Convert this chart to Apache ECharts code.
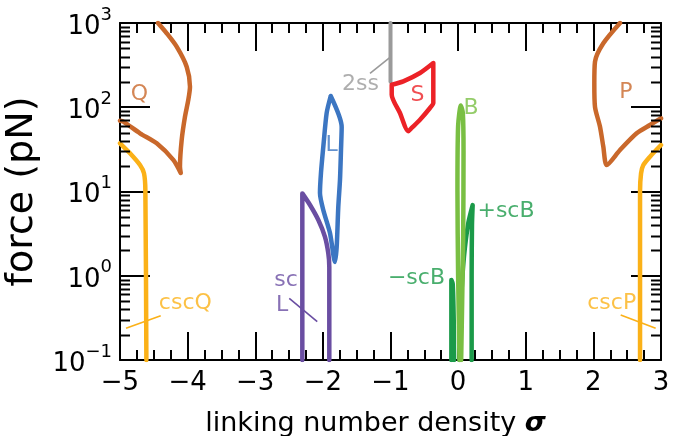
<!DOCTYPE html>
<html><head><meta charset="utf-8">
<script src="https://cdn.jsdelivr.net/npm/echarts@6/dist/echarts.min.js"></script>
<style>html,body{margin:0;padding:0;background:#fff}#c{width:683px;height:436px}</style>
</head><body><div id="c"></div>
<script>
// ---- data (sigma, force pN) ----
const curveQ = [[-4.438,1000],[-4.309,755],[-4.162,524],[-4.014,303],[-3.965,175],[-3.990,122],[-4.039,77.3],[-4.088,40.8],[-4.113,19.7],[-4.102,16.6],[-4.212,23.7],[-4.457,37.3],[-4.704,49.1],[-4.951,67.5],[-5.0,69.2]];
const curveP = [[2.394,1000],[2.147,574],[2.024,348],[2.014,192],[2.024,101],[2.098,58.7],[2.147,34.0],[2.197,20.6],[2.394,31.1],[2.640,49.1],[2.837,61.5],[3.0,74.0]];
const curveCscQ = [[-5.0,37.3],[-4.852,28.4],[-4.704,20.6],[-4.645,16.4],[-4.625,10.4],[-4.61,0.1]];
const curveCscP = [[3.0,35.6],[2.837,25.9],[2.739,20.6],[2.705,16.4],[2.69,10],[2.69,0.1]];
const curve2ss = [[-1.0,1000],[-1.0,201]];
const curveS = [[-0.982,185],[-0.811,203],[-0.564,255],[-0.367,335],[-0.367,112],[-0.416,98],[-0.564,71.1],[-0.687,56.8],[-0.737,51.9],[-0.86,85.5],[-0.982,141],[-0.982,185]];
const curveL = [[-1.884,136],[-1.722,58.3],[-1.732,31.1],[-1.747,13.7],[-1.772,6.55],[-1.796,2.19],[-1.821,1.46],[-1.895,3.21],[-1.994,6.03],[-2.043,9.59],[-2.028,16.6],[-1.994,33.7],[-1.944,85.5],[-1.884,136]];
const curveScL = [[-2.304,0.1],[-2.304,9.5],[-2.190,6.92],[-2.067,4.59],[-1.969,2.90],[-1.920,1.85],[-1.905,1.28],[-1.905,0.1]];
const curveB = [[0.02,0.1],[0.0,1],[-0.01,10],[0.0,60],[0.04,105],[0.07,85],[0.08,30],[0.075,3],[0.06,0.5],[0.045,0.1]];
const curvePlusScB = [[0.02,0.1],[0.03,0.25],[0.052,0.68],[0.087,1.7],[0.15,4.2],[0.215,6.9],[0.205,4],[0.2,1],[0.2,0.1]];
const curveMinusScB = [[-0.10,0.1],[-0.10,0.89],[-0.08,0.8],[-0.065,0.3],[-0.06,0.1]];

const xTickValues = [-5,-4,-3,-2,-1,0,1,2,3];
const yDecades = [0.1,1,10,100,1000];
const yMinorMultipliers = [2,3,4,5,6,7,8,9];

// annotation text and anchor (sigma, force)
const labelTexts  = ['Q','P','S','L','B','+scB','\u2212scB','2ss','cscQ','cscP','sc','L'];
const labelSigma  = [-4.712, 2.48, -0.60, -1.869, 0.19, 0.708, -0.194, -1.444, -4.034, 2.271, -2.545, -2.604];
const labelForce  = [141.6, 150, 138.7, 35.2, 97, 5.8, 0.927, 189.7, 0.466, 0.471, 0.891, 0.45];
const leaderLines = {
  '2ss': [[-1.303,253],[-1.007,392]],
  cscQ: [[-4.911,0.238],[-4.398,0.336]],
  cscP: [[2.404,0.342],[2.921,0.238]],
  scL:  [[-2.497,0.54],[-2.083,0.285]]
};

const C = {
  Q:'#c9682b', csc:'#fbb118', S:'#ec2227', L:'#3c76c2', scL:'#6a4ea2',
  gray:'#9a9a9a', B:'#79bf43', scB:'#1b9a49'
};
const labelColors = [C.Q,C.Q,C.S,C.L,C.B,C.scB,C.scB,C.gray,C.csc,C.csc,C.scL,C.scL];
const labelAlign  = ['center','center','center','center','center','center','right','center','center','center','center','center'];

const FONT = 'DejaVu Sans';
const chart = echarts.init(document.getElementById('c'), null, {renderer:'canvas'});

function minus(v){ return v < 0 ? '\u2212' + Math.abs(v) : String(v); }

const minorYValues = [];
yDecades.slice(0,-1).forEach(d => yMinorMultipliers.forEach(m => minorYValues.push(d*m)));

function lineSeries(data, color, w){
  return {type:'line', data, showSymbol:false, symbol:'none', smooth:0.25,
    lineStyle:{color, width:w||4.5, cap:'round', join:'round'}, silent:true, z:3};
}

const series = [
  lineSeries(curveCscQ, C.csc), lineSeries(curveCscP, C.csc),
  lineSeries(curveQ, C.Q), lineSeries(curveP, C.Q),
  lineSeries(curve2ss, C.gray, 4), lineSeries(curveS, C.S),
  lineSeries(curveScL, C.scL), lineSeries(curveL, C.L),
  lineSeries(curveMinusScB, C.scB), lineSeries(curvePlusScB, C.scB),
  lineSeries(curveB, C.B),
];
[['2ss',C.gray],['cscQ',C.csc],['cscP',C.csc],['scL',C.scL]].forEach(([k,col])=>{
  series.push({type:'line', data:leaderLines[k], showSymbol:false, symbol:'none',
    lineStyle:{color:col, width:1.6}, silent:true, z:2});
});
series.push({
  type:'scatter', symbolSize:0, silent:true, z:5,
  data: labelTexts.map((t,i)=>({value:[labelSigma[i], labelForce[i]],
    label:{show:true, formatter:t, color:labelColors[i], position:'inside', align:labelAlign[i],
      verticalAlign:'middle', fontSize:22, fontFamily:FONT}}))
});
// minor log ticks (left & right, inside)
series.push({
  type:'custom', silent:true, z:10, clip:false,
  data: minorYValues.map(v=>[-5, v]),
  renderItem(params, api){
    const cs = params.coordSys;
    const p = api.coord([-5, api.value(1)]);
    const y = Math.round(p[1]) + 0.5;
    return {type:'group', children:[
      {type:'line', shape:{x1:cs.x, y1:y, x2:cs.x+10, y2:y}, style:{stroke:'#000', lineWidth:2}},
      {type:'line', shape:{x1:cs.x+cs.width-10, y1:y, x2:cs.x+cs.width, y2:y}, style:{stroke:'#000', lineWidth:2}}
    ]};
  }
});

const axisLineStyle = {show:true, onZero:false, lineStyle:{color:'#000', width:2}};
const tickStyle = {lineStyle:{color:'#000', width:2}};

chart.setOption({
  animation:false,
  backgroundColor:'#fff',
  grid:{left:120, right:22, top:23, bottom:76, containLabel:false, outerBoundsMode:'none'},
  xAxis:[{
    type:'value', min:-5, max:3, interval:1, position:'bottom',
    axisLine:axisLineStyle,
    axisTick:{show:true, inside:true, length:28, ...tickStyle},
    minorTick:{show:true, splitNumber:4, length:10, ...tickStyle},
    splitLine:{show:false},
    axisLabel:{formatter:minus, color:'#000', fontSize:26, fontFamily:FONT, margin:10},
    name:'linking number density {s|\u03c3}', nameLocation:'middle', nameGap:50,
    nameTextStyle:{color:'#000', fontSize:27, fontFamily:FONT, padding:[0,30,0,0],
      rich:{s:{fontSize:27, fontStyle:'italic', fontWeight:'bold', fontFamily:FONT, color:'#000'}}}
  },{
    type:'value', min:-5, max:3, interval:1, position:'top',
    axisLine:axisLineStyle,
    axisTick:{show:true, inside:true, length:28, ...tickStyle},
    minorTick:{show:true, splitNumber:4, length:10, ...tickStyle},
    splitLine:{show:false}, axisLabel:{show:false}
  }],
  yAxis:[{
    type:'log', logBase:10, min:0.1, max:1000, position:'left',
    axisLine:axisLineStyle,
    axisTick:{show:true, inside:true, length:30, ...tickStyle},
    splitLine:{show:false},
    axisLabel:{color:'#000', margin:8, fontFamily:FONT,
      formatter:v=>{const e=Math.round(Math.log10(v)); return '{b|10}{s|'+minus(e)+'}';},
      rich:{b:{fontSize:26, fontFamily:FONT, color:'#000', lineHeight:34, verticalAlign:'bottom'},
            s:{fontSize:18, fontFamily:FONT, color:'#000', lineHeight:18, verticalAlign:'top'}}},
    name:'force (pN)', nameLocation:'middle', nameGap:73, nameRotate:90,
    nameTextStyle:{color:'#000', fontSize:38, fontFamily:FONT}
  },{
    type:'log', logBase:10, min:0.1, max:1000, position:'right',
    axisLine:axisLineStyle,
    axisTick:{show:true, inside:true, length:30, ...tickStyle},
    splitLine:{show:false}, axisLabel:{show:false}
  }],
  series
});
</script></body></html>
